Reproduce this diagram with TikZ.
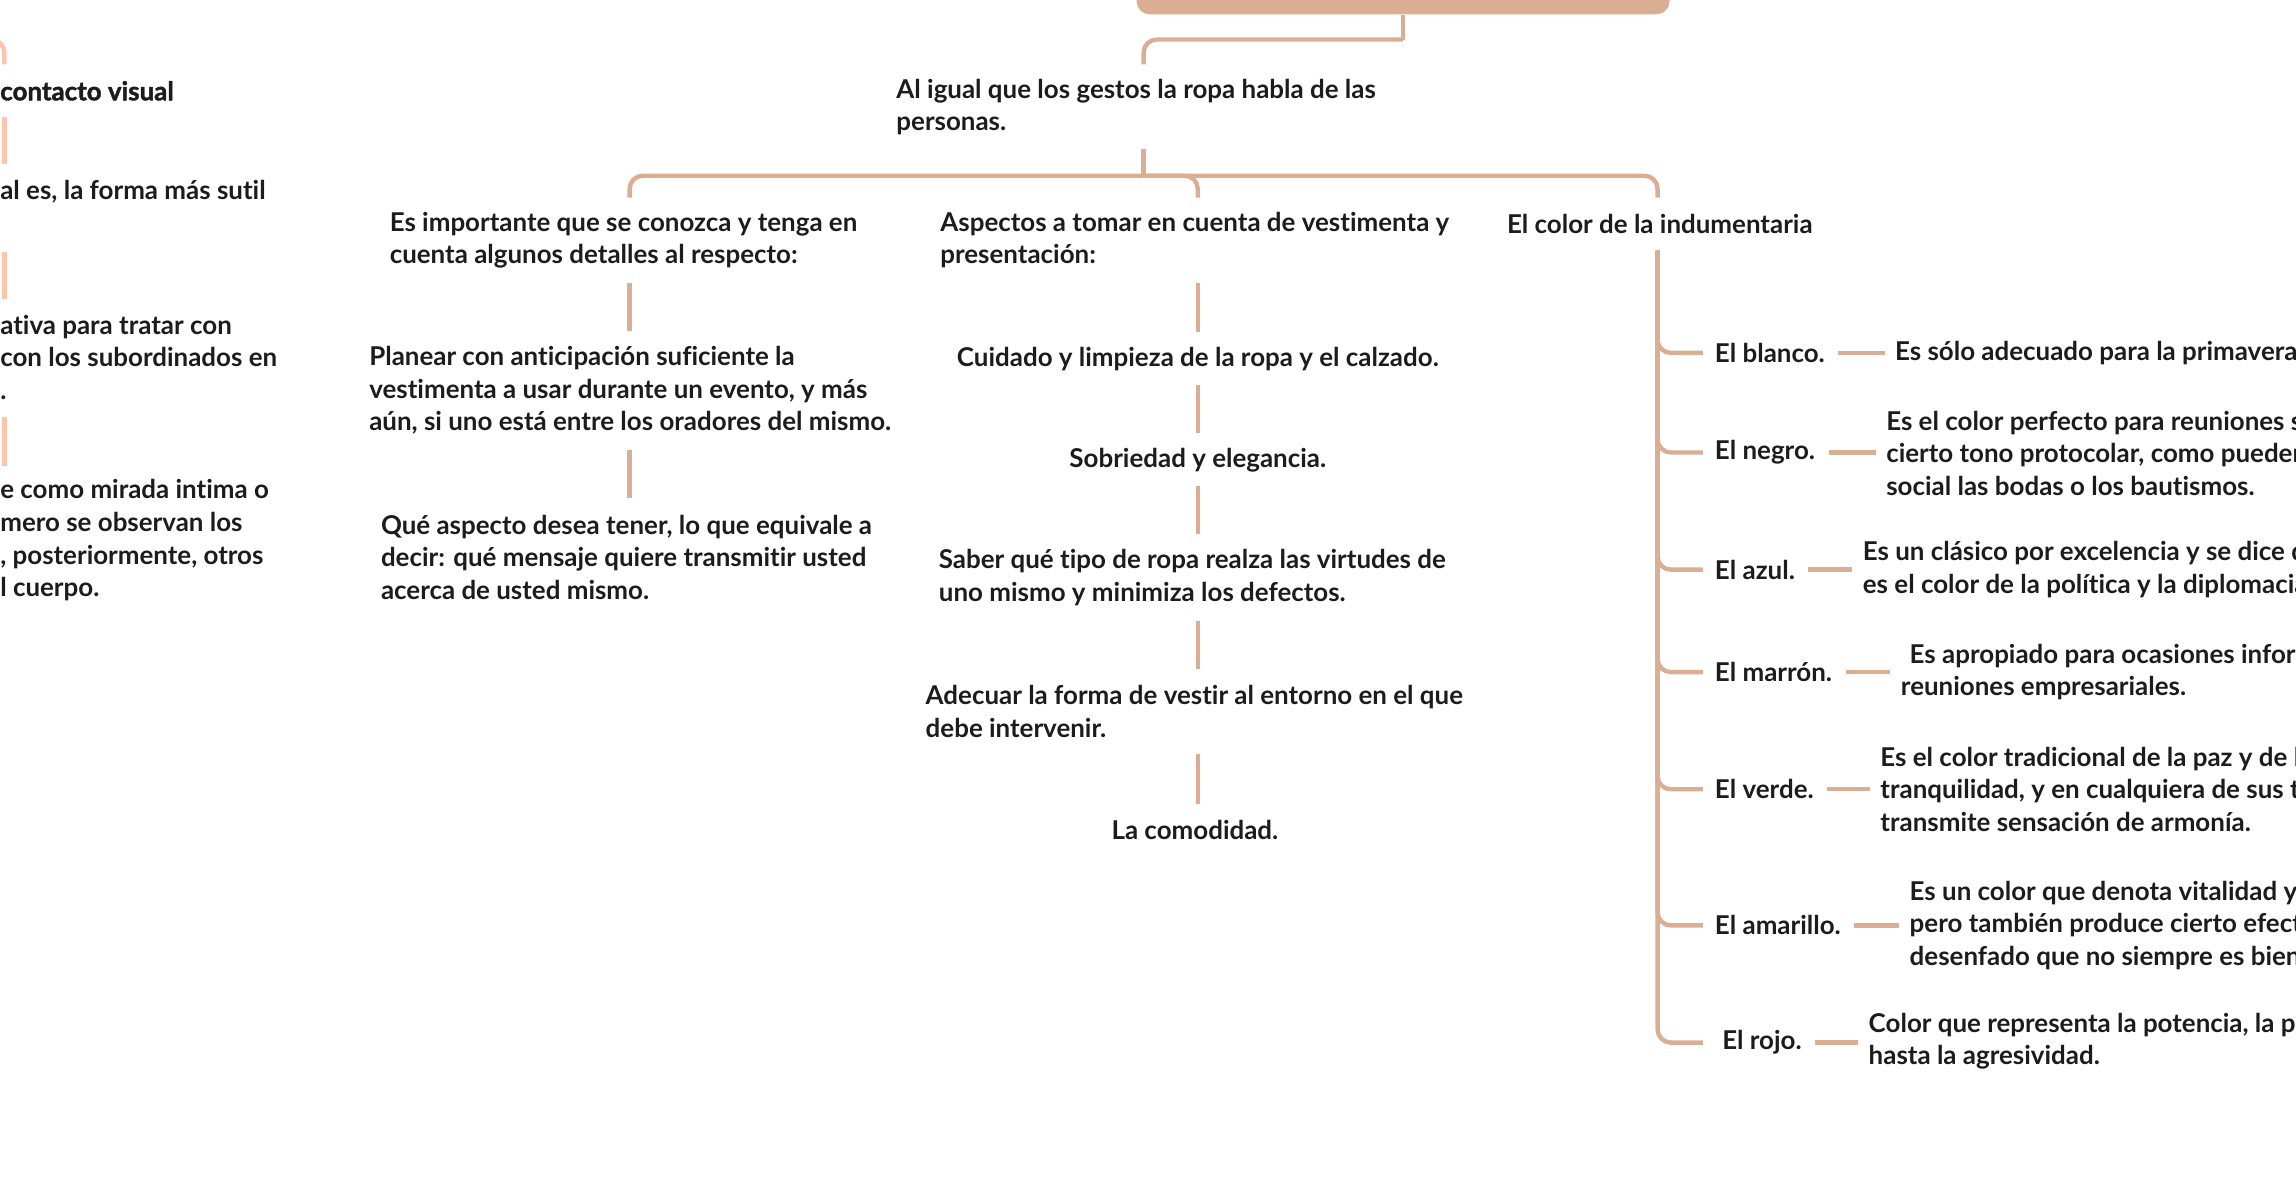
\documentclass[tikz,border=0pt]{standalone}
\usepackage{fontspec}
\setmainfont{Lato}[Ligatures=NoCommon]
\newfontfamily\heavyfont{Lato}[FakeBold=1.6,Ligatures=NoCommon]
\usetikzlibrary{calc}
\definecolor{mmtan}{HTML}{DAAE92}
\definecolor{mmpink}{HTML}{FCC4AA}
\definecolor{mmtext}{HTML}{1C1C1C}
\begin{document}
\begin{tikzpicture}[x=1pt,y=-1pt,
  conn/.style={draw=mmtan,line width=3pt},
  pconn/.style={draw=mmpink,line width=3pt},
  txt/.style={inner sep=0pt,align=left,text=mmtext,font=\fontsize{17.7}{22.3}\selectfont\bfseries},
  ctxt/.style={txt,align=center},
  lbl/.style={txt,anchor=west},
  dsc/.style={txt,anchor=west}]
\useasboundingbox (0,0) rectangle (1568,808);
\clip (0,0) rectangle (1568,808);

% top box (cut by the upper edge)
\node[fill=mmtan,rounded corners=9pt,minimum width=364pt,minimum height=40pt,anchor=south west,inner sep=0pt] (top) at (776,10) {};

% central topic
\node[txt,anchor=west] (n0) at (612,73) {Al igual que los gestos la ropa habla de las\\personas.};

% column 1
\node[txt,anchor=west] (a1) at (266,164) {Es importante que se conozca y tenga en\\cuenta algunos detalles al respecto:};
\node[txt,anchor=west] (a2) at (252,266.5) {Planear con anticipación suficiente la\\vestimenta a usar durante un evento, y más\\aún, si uno está entre los oradores del mismo.};
\node[txt,anchor=west] (a3) at (260,380.5) {Qué aspecto desea tener, lo que equivale a\\decir: qué mensaje quiere transmitir usted\\acerca de usted mismo.};

% column 2
\node[txt,anchor=west] (b0) at (642,164) {Aspectos a tomar en cuenta de vestimenta y\\presentación:};
\node[ctxt] (b1) at (818,245) {Cuidado y limpieza de la ropa y el calzado.};
\node[ctxt] (b2) at (818,314) {Sobriedad y elegancia.};
\node[txt,anchor=west] (b3) at (641,394.5) {Saber qué tipo de ropa realza las virtudes de\\uno mismo y minimiza los defectos.};
\node[txt,anchor=west] (b4) at (632,486) {Adecuar la forma de vestir al entorno en el que\\debe intervenir.};
\node[ctxt] (b5) at (816,567) {La comodidad.};

% column 3
\node[txt,anchor=west] (c0) at (1029,153) {El color de la indumentaria};
\node[lbl] (l1) at (1171,241) {El blanco.};
\node[lbl] (l2) at (1171,309) {El negro.};
\node[lbl] (l3) at (1171,389) {El azul.};
\node[lbl] (l4) at (1171,459) {El marrón.};
\node[lbl] (l5) at (1171,539) {El verde.};
\node[lbl] (l6) at (1171,632) {El amarillo.};
\node[lbl] (l7) at (1176,712) {El rojo.};
\node[dsc] (d1) at (1294,241) {Es sólo adecuado para la primavera};
\node[dsc] (d2) at (1288,309.5) {Es el color perfecto para reuniones s\\cierto tono protocolar, como pueden\\social las bodas o los bautismos.};
\node[dsc] (d3) at (1272,389) {Es un clásico por excelencia y se dice q\\es el color de la política y la diplomacia};
\node[dsc] (d4) at (1298,459) {\hspace*{6pt}Es apropiado para ocasiones infor\\reuniones empresariales.};
\node[dsc] (d5) at (1284,539) {Es el color tradicional de la paz y de l\\tranquilidad, y en cualquiera de sus t\\transmite sensación de armonía.};
\node[dsc] (d6) at (1304,632) {Es un color que denota vitalidad y\\pero también produce cierto efect\\desenfado que no siempre es bien};
\node[dsc] (d7) at (1276,711) {Color que representa la potencia, la pa\\hasta la agresividad.};

% left column (cut by the left edge)
\node[txt,anchor=west] (e1) at (0,62) {\heavyfont contacto visual};
\node[txt,anchor=west] (e2) at (0,131) {al es, la forma más sutil};
\node[txt,anchor=west] (e3) at (0,244) {ativa para tratar con\\con los subordinados en\\.};
\node[txt,anchor=west] (e4) at (0,369) {e como mirada intima o\\mero se observan los\\, posteriormente, otros\\l cuerpo.};

% junction coordinates
\coordinate (j1) at (958,27);
\coordinate (j0) at (781,44);
\coordinate (j2) at (781,120);
\coordinate (j2t) at (781,102);
\coordinate (k1) at (430,135);
\coordinate (k2) at (818,135);
\coordinate (k3) at (1132,135);
\coordinate (c3t) at (1132,171);
\coordinate (bx) at (1163,0);

% main tree
\draw[conn] (top.south -| j1) -- (j1);
\draw[conn,rounded corners=9pt] (j1) -| (j0);
\draw[conn] (j2t) -- (j2);
\draw[conn,rounded corners=9pt] (j2) -| (k1);
\draw[conn,rounded corners=9pt] (j2) -| (k2);
\draw[conn,rounded corners=9pt] (j2) -| (k3);

% column 1 links
\coordinate (a1e) at (430,193); \coordinate (a2s) at (430,226);
\coordinate (a2e) at (430,307); \coordinate (a3s) at (430,340);
\draw[conn] (a1e) -- (a2s);
\draw[conn] (a2e) -- (a3s);

% column 2 links
\coordinate (b0e) at (818,193); \coordinate (b1s) at (818,227);
\coordinate (b1e) at (818,263); \coordinate (b2s) at (818,296);
\coordinate (b2e) at (818,332); \coordinate (b3s) at (818,365);
\coordinate (b3e) at (818,424); \coordinate (b4s) at (818,457);
\coordinate (b4e) at (818,515); \coordinate (b5s) at (818,549);
\draw[conn] (b0e) -- (b1s);
\draw[conn] (b1e) -- (b2s);
\draw[conn] (b2e) -- (b3s);
\draw[conn] (b3e) -- (b4s);
\draw[conn] (b4e) -- (b5s);

% column 3 spine and branches
\foreach \l in {l1,l2,l3,l4,l5,l6,l7}{
  \draw[conn,rounded corners=9pt] (c3t) |- (\l.west -| bx);
}
\foreach \l/\d in {l1/d1,l2/d2,l3/d3,l4/d4,l5/d5,l6/d6,l7/d7}{
  \draw[conn] ($(\l.east)+(9,0)$) -- ($(\l.east -| \d.west)+(-7,0)$);
}

% left column links
\coordinate (px) at (3,0);
\draw[pconn,rounded corners=9pt] (-30,27) -| (px |- j0);
\draw[pconn] (3,80) -- (3,112);
\draw[pconn] (3,172) -- (3,204);
\draw[pconn] (3,285) -- (3,318);
\end{tikzpicture}
\end{document}
